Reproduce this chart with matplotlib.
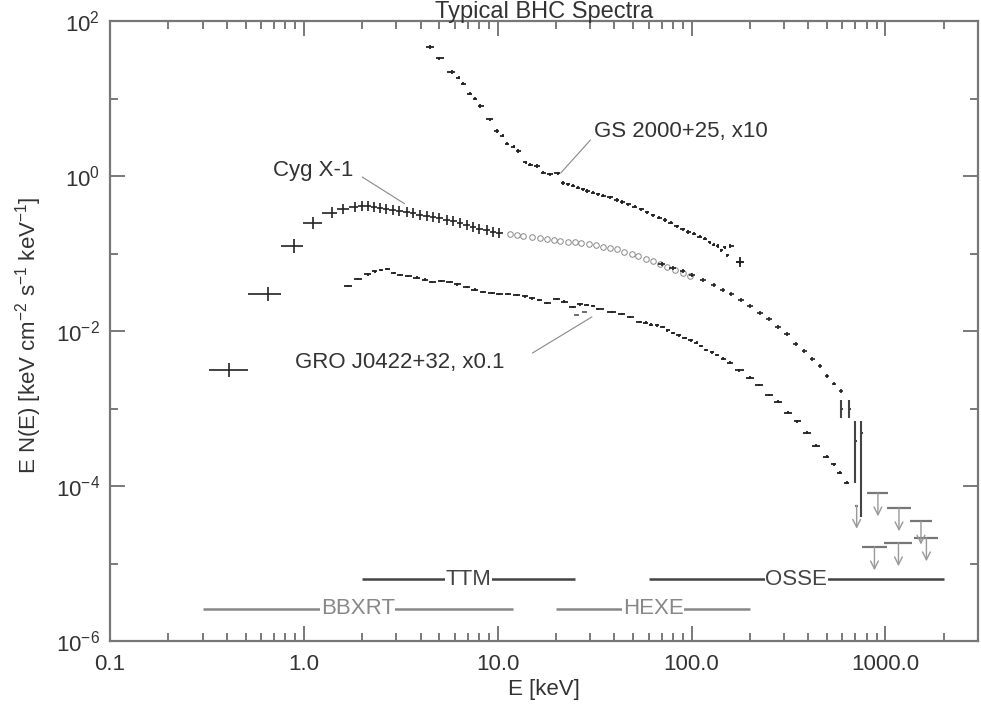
import numpy as np
import matplotlib
matplotlib.use("Agg")
import matplotlib.pyplot as plt
from matplotlib.ticker import FixedLocator, NullFormatter

plt.rcParams["font.family"] = ["Liberation Sans", "DejaVu Sans"]
plt.rcParams["mathtext.fontset"] = "custom"
plt.rcParams["mathtext.rm"] = "Liberation Sans"
plt.rcParams["mathtext.it"] = "Liberation Sans:italic"

# -----------------------------
# DATA
# -----------------------------
# Cyg X-1, crosses (keV, keV/cm2/s/keV)
cyg_x = [0.41, 0.65, 0.89, 1.11, 1.39, 1.59, 1.83, 2.0, 2.14, 2.3, 2.47, 2.65, 2.88,
         3.1, 3.4, 3.65, 3.96, 4.3, 4.63, 5.0, 5.46, 5.9, 6.37, 6.9, 7.43, 8.0,
         8.77, 9.4, 10.2]
cyg_y = [0.0031, 0.030, 0.125, 0.248, 0.335, 0.377, 0.398, 0.405, 0.41, 0.40, 0.385,
         0.375, 0.364, 0.355, 0.343, 0.33, 0.314, 0.305, 0.297, 0.285, 0.271, 0.26,
         0.248, 0.232, 0.22, 0.21, 0.2, 0.19, 0.184]
cyg_err = [0.23, 0.23, 0.22, 0.2, 0.18, 0.17, 0.16, 0.16, 0.16, 0.16, 0.16, 0.16, 0.16,
           0.16, 0.16, 0.16, 0.16, 0.16, 0.16, 0.16, 0.16, 0.16, 0.16, 0.16, 0.16,
           0.16, 0.16, 0.16, 0.16]

# Cyg X-1, open circles
cygc_x = [11.5, 12.5, 13.5, 15, 16.5, 18, 19.5, 21, 23, 25, 27, 29.5, 32, 35, 38, 41,
          45, 49, 53, 58, 63, 69, 75, 82, 90, 98]
cygc_y = [0.177, 0.172, 0.167, 0.163, 0.159, 0.154, 0.151, 0.146, 0.142, 0.139, 0.136,
          0.132, 0.128, 0.123, 0.118, 0.113, 0.106, 0.1, 0.093, 0.086, 0.08, 0.073,
          0.067, 0.062, 0.056, 0.052]

# Cyg X-1, high energy dashes
cygh_x = [70, 80, 90, 100, 115, 130, 145, 160, 180, 200, 225, 250, 280, 310, 345, 380,
          420, 460, 500, 545, 590]
cygh_y = [0.074, 0.065, 0.059, 0.053, 0.045, 0.039, 0.034, 0.03, 0.025, 0.021, 0.017,
          0.0142, 0.0113, 0.0092, 0.0068, 0.0055, 0.0044, 0.0035, 0.0026, 0.0021, 0.0017]

# Cyg X-1, large error bars near 600-750 keV
cyge_x = [593, 651, 700, 751]
cyge_y = [9.9e-4, 9.9e-4, 3.8e-4, 4.9e-4]
cyge_lo = [7.5e-4, 7.5e-4, 1.1e-4, 4.0e-5]
cyge_hi = [1.3e-3, 1.3e-3, 6.8e-4, 6.8e-4]

# upper limits (gray)
ul_lo = [807, 1012, 1330, 760, 988, 1410, 700]
ul_hi = [1035, 1361, 1746, 1012, 1377, 1875, 720]
ul_y = [8.1e-5, 5.2e-5, 3.5e-5, 1.63e-5, 1.84e-5, 2.13e-5, 5.6e-5]

# GS 2000+25, x10
gs_x = [4.46, 5.0, 5.8, 6.3, 6.6, 7.2, 7.6, 8.1, 9.1, 9.9, 10.6, 11.1, 12.1, 12.7,
        14.0, 14.6, 16.0, 17.2, 18.5, 20.4, 21.6, 23, 24.5, 26, 27.4, 29, 31, 33, 35,
        38, 41, 44, 47, 51, 55, 59, 63, 68, 73, 78, 84, 90, 96, 103, 110, 117, 124,
        130, 136, 142, 148, 153, 158, 177]
gs_y = [46, 33, 22, 18.5, 15.5, 11.5, 10, 8, 5.4, 3.8, 3.3, 2.6, 2.4, 2.1,
        1.5, 1.4, 1.35, 1.1, 1.05, 1.08, 0.81, 0.78, 0.75, 0.71, 0.67, 0.64, 0.61,
        0.58, 0.56, 0.53, 0.49, 0.46, 0.43, 0.4, 0.37, 0.34, 0.31, 0.29, 0.27, 0.25,
        0.225, 0.205, 0.19, 0.18, 0.165, 0.155, 0.14, 0.13, 0.125, 0.11, 0.12,
        0.095, 0.125, 0.078]

# GRO J0422+32, x0.1
gro_x = [1.69, 1.9, 2.15, 2.32, 2.5, 2.68, 2.9, 3.13, 3.45, 3.82, 4.2, 4.6, 5.1, 5.66,
         6.2, 6.9, 7.6, 8.4, 9.3, 10.2, 11.3, 12.5, 13.8, 15.1, 16.4, 17.9, 20.1, 22,
         24.4, 26.5, 28.8, 31, 33, 39, 44, 48, 54, 58, 62, 66, 71, 75, 80, 86, 92, 99,
         106, 112, 119, 127, 135, 145, 157, 176, 200, 222, 250, 280, 315, 350, 392,
         440, 497, 540, 580, 630]
gro_y = [0.038, 0.047, 0.054, 0.059, 0.061, 0.063, 0.056, 0.053, 0.051, 0.049, 0.046,
         0.043, 0.044, 0.043, 0.04, 0.037, 0.034, 0.032, 0.031, 0.030, 0.03, 0.029,
         0.028, 0.0265, 0.025, 0.023, 0.026, 0.024, 0.0204, 0.022, 0.0217, 0.021,
         0.0193, 0.0176, 0.0165, 0.0151, 0.0131, 0.0128, 0.0121, 0.0118, 0.0113,
         0.0102, 0.0094, 0.0088, 0.0081, 0.0076, 0.0071, 0.0064, 0.0057, 0.0053,
         0.0049, 0.0044, 0.0039, 0.0031, 0.0025, 0.002, 0.0015, 0.00122, 0.00088,
         0.00068, 0.00049, 0.00033, 0.00024, 0.00019, 0.000148, 0.00011]
gro2_x = [25.5, 28]
gro2_y = [0.016, 0.0175]

# instrument coverage (keV)
instr_names = ["TTM", "OSSE", "BBXRT", "HEXE"]
instr_lo = [2, 60, 0.3, 20]
instr_hi = [25, 2000, 12, 200]
instr_level = [6.3e-6, 6.3e-6, 2.6e-6, 2.6e-6]

# labels: text, text position, leader line start, leader line end
lab_text = ["Cyg X-1", "GS 2000+25, x10", "GRO J0422+32, x0.1"]
lab_pos = [(0.69, 1.19), (31.3, 3.7), (0.9, 0.0039)]
lab_from = [(2.0, 0.97), (30.1, 2.92), (15.1, 0.0052)]
lab_to = [(3.3, 0.44), (21.1, 1.09), (30.6, 0.0152)]


def half_widths(x, frac):
    lx = np.log10(np.asarray(x, float))
    d = np.diff(lx)
    left = np.concatenate([[d[0]], d])
    right = np.concatenate([d, [d[-1]]])
    x = 10 ** lx
    return np.vstack([x - 10 ** (lx - frac * left), 10 ** (lx + frac * right) - x])


def rel_err(y, e):
    y = np.asarray(y, float)
    e = np.asarray(e, float)
    return np.vstack([y * e / (1 + e), y * e])


fig = plt.figure(figsize=(9.81, 7.04), dpi=100)
ax = fig.add_axes([110 / 981, 1 - 641 / 704, 868 / 981, 620 / 704])
ax.set_xscale("log")
ax.set_yscale("log")
ax.set_xlim(0.1, 3000)
ax.set_ylim(1e-6, 1e2)

ink = "#222222"
# Cyg X-1
ax.errorbar(cyg_x, cyg_y, xerr=half_widths(cyg_x, 0.5), yerr=rel_err(cyg_y, cyg_err),
            fmt="none", ecolor=ink, elinewidth=1.2)
ax.plot(cygc_x, cygc_y, "o", mfc="none", mec="#888888", ms=4, mew=0.7)
ax.errorbar(cygh_x, cygh_y, xerr=half_widths(cygh_x, 0.3), yerr=rel_err(cygh_y, [0.06] * len(cygh_y)),
            fmt="none", ecolor=ink, elinewidth=1.2)
ax.errorbar(cyge_x, cyge_y,
            yerr=[np.array(cyge_y) - np.array(cyge_lo), np.array(cyge_hi) - np.array(cyge_y)],
            xerr=[np.array(cyge_x) * 0.015, np.array(cyge_x) * 0.015],
            fmt="none", ecolor="#444444", elinewidth=1.5)

# upper limits
for lo, hi, y in zip(ul_lo, ul_hi, ul_y):
    ax.hlines(y, lo, hi, color="#777777", lw=1.6)
    xm = np.sqrt(lo * hi)
    ax.annotate("", xy=(xm, y * 10 ** -0.3), xytext=(xm, y),
                arrowprops=dict(arrowstyle="->", color="#999999", lw=1.0,
                                shrinkA=0, shrinkB=0, mutation_scale=14))

# GS 2000+25
ax.errorbar(gs_x, gs_y, xerr=half_widths(gs_x, 0.4), yerr=rel_err(gs_y, [0.05] * len(gs_y)),
            fmt="none", ecolor=ink, elinewidth=1.3)
ax.errorbar([gs_x[-1]], [gs_y[-1]], xerr=[[gs_x[-1] * 0.04], [gs_x[-1] * 0.04]],
            yerr=rel_err([gs_y[-1]], [0.15]), fmt="none", ecolor=ink, elinewidth=1.3)

# GRO J0422+32
ax.errorbar(gro_x, gro_y, xerr=half_widths(gro_x, 0.4), yerr=rel_err(gro_y, [0.04] * len(gro_y)),
            fmt="none", ecolor=ink, elinewidth=1.3)
ax.errorbar(gro2_x, gro2_y, xerr=half_widths(gro2_x, 0.35), fmt="none", ecolor="#555555",
            elinewidth=1.2)

# labels with leader lines
for t, p, a, b in zip(lab_text, lab_pos, lab_from, lab_to):
    ax.text(p[0], p[1], t, ha="left", va="center", fontsize=16, color="#333333")
    ax.annotate("", xy=b, xytext=a,
                arrowprops=dict(arrowstyle="-", color="#888888", lw=0.8, shrinkA=0, shrinkB=0))

# instrument bands
for name, lo, hi, lev in zip(instr_names, instr_lo, instr_hi, instr_level):
    c = "#444444" if lev > 4e-6 else "#888888"
    ax.hlines(lev, lo, hi, color=c, lw=1.8)
    ax.text(np.sqrt(lo * hi), lev, name, ha="center", va="center", fontsize=16, color=c,
            bbox=dict(facecolor="white", edgecolor="none", pad=0.5))

# axes styling
maj_x = [0.1, 1, 10, 100, 1000]
ax.xaxis.set_major_locator(FixedLocator(maj_x))
ax.set_xticklabels(["0.1", "1.0", "10.0", "100.0", "1000.0"])
minor_x = [m * 10.0 ** k for k in range(-1, 4) for m in range(2, 10) if m * 10.0 ** k <= 3000]
ax.xaxis.set_minor_locator(FixedLocator(minor_x))
ax.xaxis.set_minor_formatter(NullFormatter())

maj_y = [1e-6, 1e-4, 1e-2, 1, 1e2]
ax.yaxis.set_major_locator(FixedLocator(maj_y))
ax.set_yticklabels(["$10^{-6}$", "$10^{-4}$", "$10^{-2}$", "$10^{0}$", "$10^{2}$"])
ax.yaxis.set_minor_locator(FixedLocator([1e-5, 1e-3, 1e-1, 10]))
ax.yaxis.set_minor_formatter(NullFormatter())

ax.tick_params(which="both", direction="in", top=True, right=True, colors="#555555",
               labelcolor="#333333", labelsize=16, width=1.1)
ax.tick_params(which="major", length=11)
ax.tick_params(which="minor", length=5.5)
ax.tick_params(axis="x", pad=9)
ax.tick_params(axis="y", pad=7)
for s in ax.spines.values():
    s.set_color("#777777")
    s.set_linewidth(1.6)

fig.text(544 / 981, 1 - 1 / 704, "Typical BHC Spectra", ha="center", va="top",
         fontsize=17, color="#333333")
fig.text(544 / 981, 1 - 690 / 704, "E [keV]", ha="center", va="center", fontsize=16,
         color="#333333")
fig.text(29 / 981, 1 - 335 / 704, "E N(E) [keV cm$^{-2}$ s$^{-1}$ keV$^{-1}$]", ha="center",
         va="center", rotation=90, fontsize=16, color="#333333")

fig.savefig("out.png", dpi=100)
